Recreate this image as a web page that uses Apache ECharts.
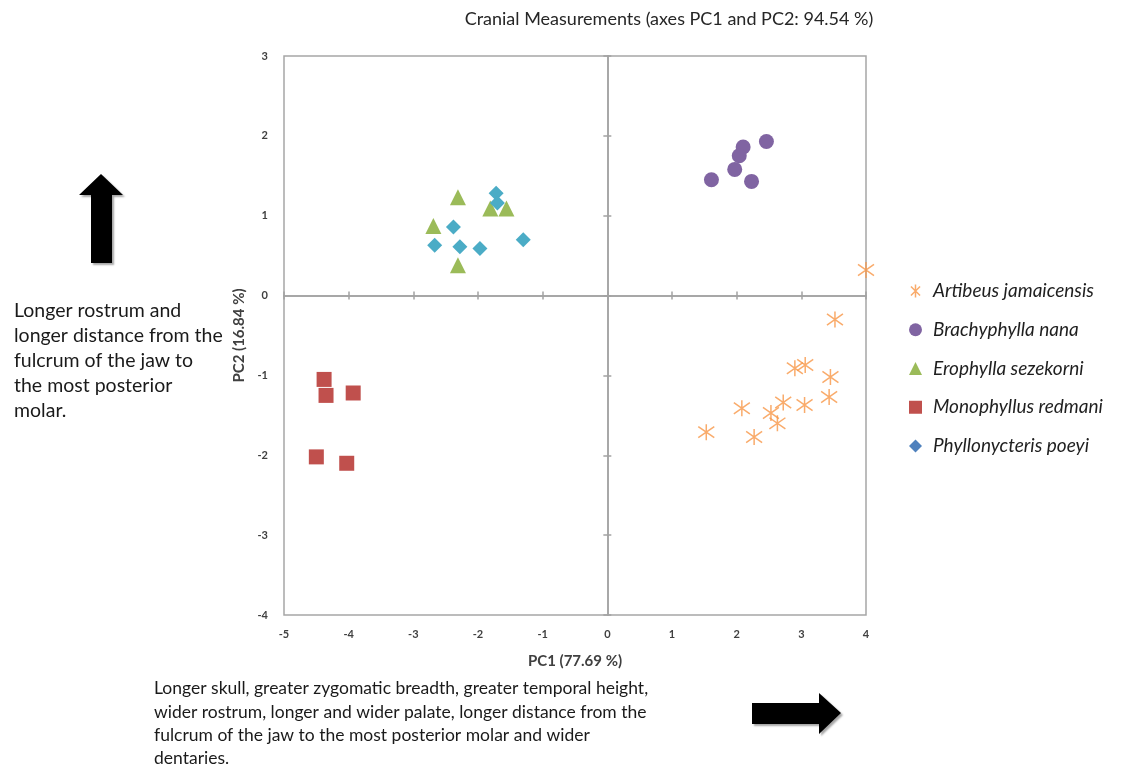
<!DOCTYPE html>
<html>
<head>
<meta charset="utf-8">
<script src="https://cdn.jsdelivr.net/npm/echarts@6/dist/echarts.min.js"></script>
<style>
  html, body { margin: 0; padding: 0; background: #fff; }
  #chart { width: 1125px; height: 780px; }
</style>
</head>
<body>
<div id="chart"></div>
<script>
const titleText = 'Cranial Measurements (axes PC1 and PC2: 94.54 %)';
const xName = 'PC1 (77.69 %)';
const yName = 'PC2 (16.84 %)';
const speciesNames = ['Artibeus jamaicensis', 'Brachyphylla nana', 'Erophylla sezekorni', 'Monophyllus redmani', 'Phyllonycteris poeyi'];

const artibeus = [
  [4.0, 0.32], [3.52, -0.30], [2.90, -0.91], [3.06, -0.87], [3.45, -1.02],
  [3.43, -1.27], [3.05, -1.37], [2.72, -1.34], [2.08, -1.41], [2.53, -1.47],
  [2.63, -1.60], [1.53, -1.71], [2.27, -1.77]
];
const brachyphylla = [
  [2.46, 1.93], [2.10, 1.86], [2.04, 1.75], [1.97, 1.58], [1.61, 1.45], [2.23, 1.43]
];
const erophylla = [
  [-2.31, 1.23], [-1.81, 1.09], [-1.56, 1.09], [-2.69, 0.87], [-2.31, 0.38]
];
const monophyllus = [
  [-4.38, -1.05], [-4.35, -1.25], [-3.93, -1.22], [-4.50, -2.02], [-4.03, -2.10]
];
const phyllonycteris = [
  [-1.72, 1.28], [-1.70, 1.16], [-2.38, 0.86], [-2.67, 0.63], [-2.28, 0.61], [-1.97, 0.59], [-1.30, 0.70]
];

const leftNote = ['Longer rostrum and', 'longer distance from the', 'fulcrum of the jaw to', 'the most posterior', 'molar.'];
const bottomNote = [
  'Longer skull, greater zygomatic breadth, greater temporal height,',
  'wider rostrum, longer and wider palate, longer distance from the',
  'fulcrum of the jaw to the most posterior molar and wider',
  'dentaries.'
];

const FONT = 'Lato, "Liberation Sans", sans-serif';
const starPath = 'path://M0,-10L0,10M-7,-7L7,7M-7,7L7,-7';
const gridBox = { left: 284, right: 259, top: 56, bottom: 165 };

const zeroLine = { show: true, onZero: true, onZeroAxisIndex: 0, lineStyle: { color: '#a3a3a3', width: 1.5 } };
const zeroTick = { show: true, inside: true, length: 4, lineStyle: { color: '#a3a3a3', width: 1.5 } };

function zeroAxis(position) {
  return {
    type: 'value', gridIndex: 0, position,
    axisLine: zeroLine, axisTick: zeroTick,
    axisLabel: { show: false }, splitLine: { show: false }
  };
}

const chart = echarts.init(document.getElementById('chart'), null, { renderer: 'canvas' });

chart.setOption({
  animation: false,
  title: {
    text: titleText,
    left: 664, top: 5, textAlign: 'center',
    textStyle: { fontFamily: FONT, fontSize: 18, fontWeight: 'normal', color: '#262626' }
  },
  grid: [
    Object.assign({ show: true, borderColor: '#a6a6a6', borderWidth: 1.5 }, gridBox),
    Object.assign({ show: false }, gridBox)
  ],
  xAxis: [
    Object.assign({ min: -5, max: 4, interval: 1 }, zeroAxis('bottom')),
    Object.assign({ min: -5, max: 4, interval: 1 }, zeroAxis('top')),
    {
      type: 'value', gridIndex: 1, min: -5, max: 4, interval: 1,
      axisLine: { show: false, onZero: false }, axisTick: { show: false }, splitLine: { show: false },
      axisLabel: { margin: 14, fontFamily: FONT, fontSize: 11, fontWeight: 'bold', color: '#404040' },
      name: xName, nameLocation: 'middle', nameGap: 39,
      nameTextStyle: { fontFamily: FONT, fontSize: 15, fontWeight: 'bold', color: '#404040' }
    }
  ],
  yAxis: [
    Object.assign({ min: -4, max: 3, interval: 1 }, zeroAxis('left')),
    Object.assign({ min: -4, max: 3, interval: 1 }, zeroAxis('right')),
    {
      type: 'value', gridIndex: 1, min: -4, max: 3, interval: 1,
      axisLine: { show: false, onZero: false }, axisTick: { show: false }, splitLine: { show: false },
      axisLabel: { margin: 16, fontFamily: FONT, fontSize: 11, fontWeight: 'bold', color: '#404040' },
      name: yName, nameLocation: 'middle', nameGap: 35,
      nameTextStyle: { fontFamily: FONT, fontSize: 15, fontWeight: 'bold', color: '#404040' }
    }
  ],
  legend: {
    orient: 'vertical', left: 904, top: 276,
    itemWidth: 13, itemHeight: 13, itemGap: 18.75,
    textStyle: { fontFamily: FONT, fontSize: 19, lineHeight: 20, fontStyle: 'italic', color: '#1f1f1f', padding: [0, 0, 0, 6] },
    data: [
      { name: speciesNames[0], icon: starPath, itemStyle: { color: 'rgba(0,0,0,0)', borderColor: '#f79646', borderWidth: 1.5 } },
      { name: speciesNames[1], icon: 'circle', itemStyle: { color: '#8064a2' } },
      { name: speciesNames[2], icon: 'triangle', itemStyle: { color: '#9bbb59' } },
      { name: speciesNames[3], icon: 'rect', itemStyle: { color: '#c0504d' } },
      { name: speciesNames[4], icon: 'diamond', itemStyle: { color: '#4f81bd' } }
    ]
  },
  series: [
    {
      name: speciesNames[0], type: 'scatter', xAxisIndex: 0, yAxisIndex: 0,
      symbol: starPath, symbolSize: 16, data: artibeus,
      itemStyle: { color: 'rgba(0,0,0,0)', borderColor: '#f79646', borderWidth: 1.5 }
    },
    {
      name: speciesNames[1], type: 'scatter', xAxisIndex: 0, yAxisIndex: 0,
      symbol: 'circle', symbolSize: 15, data: brachyphylla,
      itemStyle: { color: '#8064a2', opacity: 1 }
    },
    {
      name: speciesNames[2], type: 'scatter', xAxisIndex: 0, yAxisIndex: 0,
      symbol: 'triangle', symbolSize: 16, data: erophylla,
      itemStyle: { color: '#9bbb59', opacity: 1 }
    },
    {
      name: speciesNames[3], type: 'scatter', xAxisIndex: 0, yAxisIndex: 0,
      symbol: 'rect', symbolSize: 15, data: monophyllus,
      itemStyle: { color: '#c0504d', opacity: 1 }
    },
    {
      name: speciesNames[4], type: 'scatter', xAxisIndex: 0, yAxisIndex: 0,
      symbol: 'diamond', symbolSize: 15, data: phyllonycteris,
      itemStyle: { color: '#4bacc6', opacity: 1 }
    }
  ],
  graphic: [
    {
      type: 'text', left: 14, top: 298,
      style: { text: leftNote.join('\n'), font: '19.5px ' + FONT, lineHeight: 25, fill: '#1a1a1a' }
    },
    {
      type: 'text', left: 154, top: 677,
      style: { text: bottomNote.join('\n'), font: '17.5px ' + FONT, lineHeight: 23.3, fill: '#1a1a1a' }
    },
    {
      type: 'polygon',
      shape: { points: [[101, 174], [123, 195], [112, 195], [112, 263], [91, 263], [91, 195], [79, 195]] },
      style: { fill: '#000', shadowColor: 'rgba(0,0,0,0.35)', shadowBlur: 2, shadowOffsetX: 2, shadowOffsetY: 2 }
    },
    {
      type: 'polygon',
      shape: { points: [[752, 703], [819, 703], [819, 693], [841, 713], [819, 734], [819, 724], [752, 724]] },
      style: { fill: '#000', shadowColor: 'rgba(0,0,0,0.35)', shadowBlur: 2, shadowOffsetX: 2, shadowOffsetY: 2 }
    }
  ]
});

window.addEventListener('resize', () => chart.resize(), { passive: true });
</script>
</body>
</html>
